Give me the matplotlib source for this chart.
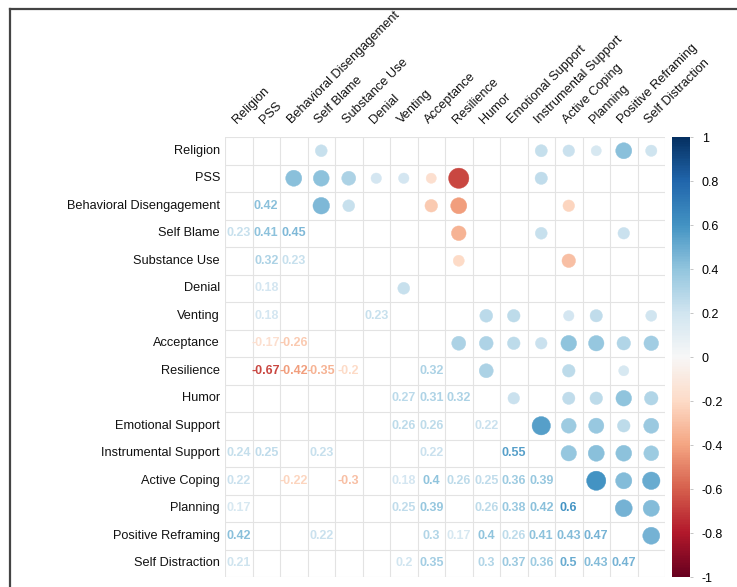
import matplotlib
matplotlib.use("Agg")
import matplotlib.pyplot as plt
import numpy as np
from matplotlib.patches import Circle
from matplotlib.lines import Line2D
from matplotlib.colors import Normalize
from matplotlib.cm import ScalarMappable

plt.rcParams["font.family"] = ["Liberation Sans", "DejaVu Sans"]

labels = [
    "Religion", "PSS", "Behavioral Disengagement", "Self Blame", "Substance Use",
    "Denial", "Venting", "Acceptance", "Resilience", "Humor",
    "Emotional Support", "Instrumental Support", "Active Coping", "Planning",
    "Positive Reframing", "Self Distraction",
]

# lower triangle: row -> {column: r}; only significant values shown
lower = {
    2: {1: 0.42},
    3: {0: 0.23, 1: 0.41, 2: 0.45},
    4: {1: 0.32, 2: 0.23},
    5: {1: 0.18},
    6: {1: 0.18, 5: 0.23},
    7: {1: -0.17, 2: -0.26},
    8: {1: -0.67, 2: -0.42, 3: -0.35, 4: -0.2, 7: 0.32},
    9: {6: 0.27, 7: 0.31, 8: 0.32},
    10: {6: 0.26, 7: 0.26, 9: 0.22},
    11: {0: 0.24, 1: 0.25, 3: 0.23, 7: 0.22, 10: 0.55},
    12: {0: 0.22, 2: -0.22, 4: -0.3, 6: 0.18, 7: 0.4, 8: 0.26, 9: 0.25, 10: 0.36, 11: 0.39},
    13: {0: 0.17, 6: 0.25, 7: 0.39, 9: 0.26, 10: 0.38, 11: 0.42, 12: 0.6},
    14: {0: 0.42, 3: 0.22, 7: 0.3, 8: 0.17, 9: 0.4, 10: 0.26, 11: 0.41, 12: 0.43, 13: 0.47},
    15: {0: 0.21, 6: 0.2, 7: 0.35, 9: 0.3, 10: 0.37, 11: 0.36, 12: 0.5, 13: 0.43, 14: 0.47},
}

n = len(labels)
corr = np.full((n, n), np.nan)
for i, row in lower.items():
    for j, v in row.items():
        corr[i, j] = v
        corr[j, i] = v

W, H = 737, 587
fig = plt.figure(figsize=(W / 100, H / 100), dpi=100)

# grid area in pixels
gx0, gx1, gy0, gy1 = 225, 665, 137, 577
ax = fig.add_axes([gx0 / W, 1 - gy1 / H, (gx1 - gx0) / W, (gy1 - gy0) / H])
ax.set_xlim(-0.5, n - 0.5)
ax.set_ylim(n - 0.5, -0.5)
ax.axis("off")

cmap = plt.get_cmap("RdBu")
norm = Normalize(-1, 1)

for k in range(n + 1):
    ax.plot([-0.5, n - 0.5], [k - 0.5, k - 0.5], color="#e3e3e3", lw=0.8, zorder=1)
    ax.plot([k - 0.5, k - 0.5], [-0.5, n - 0.5], color="#e3e3e3", lw=0.8, zorder=1)

for i in range(n):
    for j in range(n):
        v = corr[i, j]
        if np.isnan(v):
            continue
        c = cmap(norm(v))
        if j > i:
            ax.add_patch(Circle((j, i), 0.45 * np.sqrt(abs(v)), facecolor=c,
                                edgecolor=c, lw=0.3, zorder=2))
        else:
            ax.text(j, i, f"{v:g}", color=c, ha="center", va="center",
                    fontsize=9, fontweight="bold", zorder=3)

for i, lab in enumerate(labels):
    ax.text(-0.68, i, lab, ha="right", va="center", fontsize=9.2, color="#111111")
    ax.text(i - 0.08, -0.98, lab, ha="left", va="baseline", rotation=45,
            rotation_mode="anchor", fontsize=9.2, color="#111111")

# colour bar
cax = fig.add_axes([672 / W, 1 - gy1 / H, 18 / W, (gy1 - gy0) / H])
cb = fig.colorbar(ScalarMappable(norm=norm, cmap=cmap), cax=cax)
ticks = np.round(np.linspace(-1, 1, 11), 1)
cb.set_ticks(ticks)
cb.set_ticklabels([f"{t:g}" for t in ticks])
cb.outline.set_visible(False)
cax.tick_params(length=2.5, width=0.6, color="#bbbbbb", labelsize=9, pad=6)

# frame lines of the original image
fig.add_artist(Line2D([10 / W, 1], [1 - 9 / H, 1 - 9 / H], color="#444444", lw=1.6))
fig.add_artist(Line2D([10 / W, 10 / W], [0, 1 - 9 / H], color="#444444", lw=1.6))

fig.savefig("out.png", dpi=100)
